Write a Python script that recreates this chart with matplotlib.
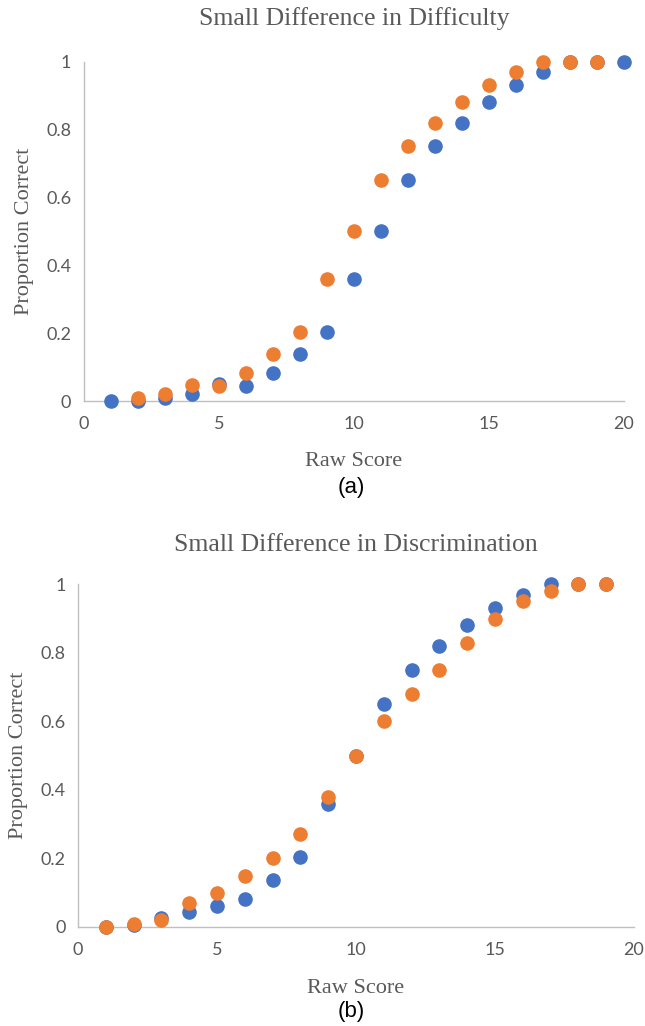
import matplotlib
matplotlib.use("Agg")
import matplotlib.pyplot as plt

# DATA #
raw_a_blue = list(range(1, 21))
prop_a_blue = [0, 0, 0.008, 0.02, 0.05, 0.045, 0.083, 0.138, 0.205, 0.36,
               0.5, 0.65, 0.75, 0.82, 0.88, 0.93, 0.97, 1.0, 1.0, 1.0]
raw_a_orange = list(range(2, 20))
prop_a_orange = [0.008, 0.022, 0.048, 0.045, 0.083, 0.138, 0.205, 0.36, 0.5,
                 0.65, 0.75, 0.82, 0.88, 0.93, 0.97, 1.0, 1.0, 1.0]

raw_b = list(range(1, 20))
prop_b_blue = [0, 0.005, 0.025, 0.045, 0.06, 0.083, 0.138, 0.205, 0.36, 0.5,
               0.65, 0.75, 0.82, 0.88, 0.93, 0.97, 1.0, 1.0, 1.0]
prop_b_orange = [0, 0.01, 0.02, 0.07, 0.1, 0.15, 0.2, 0.27, 0.38, 0.5,
                 0.6, 0.68, 0.75, 0.83, 0.9, 0.95, 0.98, 1.0, 1.0]

xticks = [0, 5, 10, 15, 20]
yticks = [0, 0.2, 0.4, 0.6, 0.8, 1.0]
ytick_labels = ["0", "0.2", "0.4", "0.6", "0.8", "1"]
# END DATA #

BLUE = "#4472C4"
ORANGE = "#ED7D31"
GRAY = "#595959"
AXIS = "#BFBFBF"
SERIF = ["Liberation Serif", "DejaVu Serif"]


def style_axes(ax, title, title_pad, xlabel_pad):
    ax.set_xlim(0, 20)
    ax.set_ylim(0, 1)
    ax.set_xticks(xticks)
    ax.set_yticks(yticks)
    ax.set_yticklabels(ytick_labels)
    for s in ["top", "right"]:
        ax.spines[s].set_visible(False)
    for s in ["left", "bottom"]:
        ax.spines[s].set_color(AXIS)
        ax.spines[s].set_linewidth(1.0)
    ax.tick_params(length=0, labelsize=13, colors=GRAY)
    ax.tick_params(axis="x", pad=11)
    ax.tick_params(axis="y", pad=9)
    for lab in ax.get_xticklabels() + ax.get_yticklabels():
        lab.set_family("Lato")
    ax.set_title(title, family=SERIF, fontsize=18.5, color=GRAY, pad=title_pad)
    ax.set_xlabel("Raw Score", family=SERIF, fontsize=16, color=GRAY,
                  labelpad=xlabel_pad)
    ax.set_ylabel("Proportion Correct", family=SERIF, fontsize=16,
                  color=GRAY, labelpad=9)


fig = plt.figure(figsize=(6.45, 10.26), dpi=100)

ax1 = fig.add_axes([0.130, 0.609, 0.837, 0.331])
ax1.scatter(raw_a_blue, prop_a_blue, s=90, color=BLUE, clip_on=False, zorder=3)
ax1.scatter(raw_a_orange, prop_a_orange, s=90, color=ORANGE, clip_on=False, zorder=4)
style_axes(ax1, "Small Difference in Difficulty", 26, 14)
fig.text(0.545, 1 - 487 / 1026, "(a)", family="Liberation Sans", fontsize=16,
         ha="center", va="center")

ax2 = fig.add_axes([0.121, 0.0965, 0.862, 0.334])
ax2.scatter(raw_b, prop_b_blue, s=90, color=BLUE, clip_on=False, zorder=3)
ax2.scatter(raw_b, prop_b_orange, s=90, color=ORANGE, clip_on=False, zorder=4)
style_axes(ax2, "Small Difference in Discrimination", 24, 15)
fig.text(0.545, 1 - 1012 / 1026, "(b)", family="Liberation Sans", fontsize=16,
         ha="center", va="center")

fig.savefig("out.png", dpi=100)
